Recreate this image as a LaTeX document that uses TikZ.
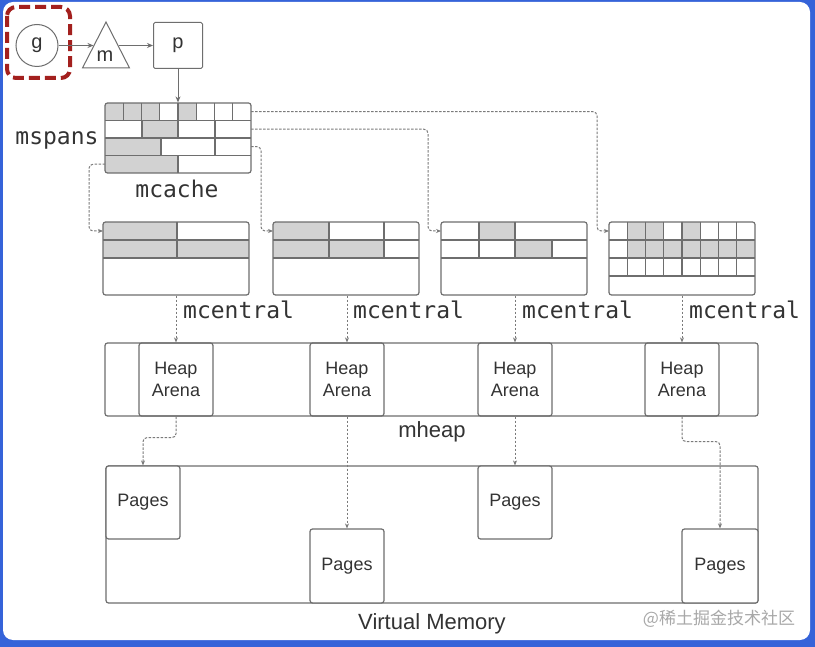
\documentclass[tikz,border=0pt]{standalone}
\usepackage{fontspec}
\setmainfont{Liberation Sans}
\newfontfamily\monof{DejaVu Sans Mono}
\newfontfamily\cjkf{Noto Sans CJK SC}
\usetikzlibrary{arrows.meta,calc}
\definecolor{lc}{HTML}{6E6E6E}
\definecolor{dc}{HTML}{7A7A7A}
\definecolor{gc}{HTML}{D2D2D2}
\definecolor{tc}{HTML}{333333}
\definecolor{bordc}{HTML}{3563D9}
\definecolor{redc}{HTML}{A3201E}
\definecolor{wm}{HTML}{A8A8A8}
\begin{document}
\begin{tikzpicture}[x=1pt,y=-1pt,
 ln/.style={draw=lc, line width=1.2pt},
 bx/.style={ln, rounded corners=2.5pt, inner sep=0pt},
 conn/.style={draw=dc, line width=1pt, dash pattern=on 2.5pt off 1.5pt, rounded corners=4pt, -{Stealth[length=5pt,width=4pt]}},
 arr/.style={draw=lc, line width=1pt, -{Stealth[length=6pt,width=5pt]}},
 monolab/.style={font=\monof\fontsize{23}{26}\selectfont, text=tc, inner sep=0pt},
 sanslab/.style={font=\fontsize{22}{26}\selectfont, text=tc, inner sep=0pt},
 small/.style={font=\fontsize{18}{22}\selectfont, text=tc, align=center},
 gmp/.style={font=\fontsize{20}{24}\selectfont, text=tc},
]
% frame
\fill[bordc] (0,0) rectangle (815,647);
\fill[white, rounded corners=10pt] (3,2) rectangle (810,640);
\useasboundingbox (0,0) rectangle (815,647);

% top: g, m, p
\node[circle, draw=lc, line width=1pt, minimum size=42pt, inner sep=0pt, gmp] (g) at (37,45.5) {g};
\draw[redc, line width=4pt, dash pattern=on 11pt off 5pt, rounded corners=9pt] (7,7) rectangle (70,78);
\draw[ln, line width=1pt] (106,22) -- (129.5,68) -- (82.5,68) -- cycle;
\node[gmp] (m) at (105,56) {m};
\coordinate (mL) at (93.5,45.5);
\coordinate (mR) at (118.5,45.5);
\node[draw=lc, line width=1pt, rounded corners=1.5pt, minimum width=49pt, minimum height=46pt, inner sep=0pt, gmp] (p) at (178,45.5) {p};
\draw[arr] (g) -- (mL);
\draw[arr] (mR) -- (p.west);

% mcache
\begin{scope}
\clip[rounded corners=2.5pt] (105,103) rectangle (251,173);
\fill[gc] (105,103) rectangle (159.75,120.5);
\fill[gc] (178,103) rectangle (196.25,120.5);
\fill[gc] (142,120.5) rectangle (178,138);
\fill[gc] (105,138) rectangle (161,155.5);
\fill[gc] (105,155.5) rectangle (178,173);
\end{scope}
\draw[ln] (105,120.5) -- (251,120.5) (105,138) -- (251,138) (105,155.5) -- (251,155.5);
\foreach \x in {123.25,141.5,159.75,178,196.25,214.5,232.75} \draw[ln] (\x,103) -- (\x,120.5);
\foreach \x in {142,178,215} \draw[ln] (\x,120.5) -- (\x,138);
\foreach \x in {161,215} \draw[ln] (\x,138) -- (\x,155.5);
\draw[ln] (178,155.5) -- (178,173);
\node[bx, minimum width=146pt, minimum height=70pt] (mcache) at (178,138) {};
\draw[arr] (p.south) -- (mcache.north);
\node[monolab] (mspans) at (57,140) {mspans};
\node[monolab] (mcachelab) at (177,189) {mcache};

% mcentral 1
\begin{scope}
\clip[rounded corners=2.5pt] (103,222) rectangle (249,295);
\fill[gc] (103,222) rectangle (177,240);
\fill[gc] (103,240) rectangle (249,258);
\end{scope}
\draw[ln] (103,240) -- (249,240) (103,258) -- (249,258) (177,222) -- (177,258);
\node[bx, minimum width=146pt, minimum height=73pt] (mc1) at (176,258.5) {};

% mcentral 2
\begin{scope}
\clip[rounded corners=2.5pt] (273,222) rectangle (419,295);
\fill[gc] (273,222) rectangle (329,240);
\fill[gc] (273,240) rectangle (384,258);
\end{scope}
\draw[ln] (273,240) -- (419,240) (273,258) -- (419,258) (329,222) -- (329,258) (384,222) -- (384,258);
\node[bx, minimum width=146pt, minimum height=73pt] (mc2) at (346,258.5) {};

% mcentral 3
\begin{scope}
\clip[rounded corners=2.5pt] (441,222) rectangle (587,295);
\fill[gc] (479,222) rectangle (515,240);
\fill[gc] (515,240) rectangle (552,258);
\end{scope}
\draw[ln] (441,240) -- (587,240) (441,258) -- (587,258) (479,222) -- (479,258) (515,222) -- (515,258) (552,240) -- (552,258);
\node[bx, minimum width=146pt, minimum height=73pt] (mc3) at (514,258.5) {};

% mcentral 4
\begin{scope}
\clip[rounded corners=2.5pt] (609,222) rectangle (755,295);
\fill[gc] (627.25,222) rectangle (663.75,240);
\fill[gc] (682,222) rectangle (700.25,240);
\fill[gc] (627.25,240) rectangle (755,258);
\end{scope}
\draw[ln] (609,240) -- (755,240) (609,258) -- (755,258) (609,276) -- (755,276);
\foreach \k in {1,...,7} \draw[ln] ({609+18.25*\k},222) -- ({609+18.25*\k},276);
\node[bx, minimum width=146pt, minimum height=73pt] (mc4) at (682,258.5) {};

% mcache -> mcentral connectors
\coordinate (s1) at (251,111.75);
\coordinate (s2) at (251,129.25);
\coordinate (s3) at (251,146.75);
\coordinate (s4) at (105,164.25);
\coordinate (e1) at (103,231);
\coordinate (e2) at (273,231);
\coordinate (e3) at (441,231);
\coordinate (e4) at (609,231);
\draw[conn] (s1) -| ($(e4)+(-12,0)$) -- (e4);
\draw[conn] (s2) -| ($(e3)+(-13,0)$) -- (e3);
\draw[conn] (s3) -| ($(e2)+(-12,0)$) -- (e2);
\draw[conn] (s4) -| ($(e1)+(-14,0)$) -- (e1);

% mheap
\node[bx, minimum width=653pt, minimum height=73pt] (heap) at (431.5,379.5) {};
\node[bx, small, minimum width=74pt, minimum height=73pt] (ar1) at (176,379.5) {Heap\\Arena};
\node[bx, small, minimum width=74pt, minimum height=73pt] (ar2) at (347,379.5) {Heap\\Arena};
\node[bx, small, minimum width=74pt, minimum height=73pt] (ar3) at (515,379.5) {Heap\\Arena};
\node[bx, small, minimum width=74pt, minimum height=73pt] (ar4) at (682,379.5) {Heap\\Arena};
\node[sanslab] (mheaplab) at (432,432) {mheap};

% mcentral labels and connectors
\node[monolab, anchor=west] (l1) at (183,310) {mcentral};
\node[monolab, anchor=west] (l2) at (353,310) {mcentral};
\node[monolab, anchor=west] (l3) at (522,310) {mcentral};
\node[monolab, anchor=west] (l4) at (689,310) {mcentral};
\draw[conn] (ar1.north |- mc1.south) -- (ar1.north);
\draw[conn] (ar2.north |- mc2.south) -- (ar2.north);
\draw[conn] (ar3.north |- mc3.south) -- (ar3.north);
\draw[conn] (ar4.north |- mc4.south) -- (ar4.north);

% virtual memory
\node[bx, minimum width=652pt, minimum height=137pt] (vm) at (432,534.5) {};
\node[bx, small, fill=white, minimum width=74pt, minimum height=73pt] (pg1) at (143,502.5) {Pages};
\node[bx, small, fill=white, minimum width=74pt, minimum height=74pt] (pg2) at (347,566) {Pages};
\node[bx, small, fill=white, minimum width=74pt, minimum height=73pt] (pg3) at (515,502.5) {Pages};
\node[bx, small, fill=white, minimum width=76pt, minimum height=74pt] (pg4) at (720,566) {Pages};
\node[sanslab] (vmlab) at (432,624) {Virtual Memory};

\draw[conn] (ar1.south) -- ++(0,21) -| (pg1.north);
\draw[conn] (ar2.south) -- (pg2.north);
\draw[conn] (ar3.south) -- (pg3.north);
\draw[conn] (ar4.south) -- ++(0,25) -| (pg4.north);

% watermark
\node[font=\cjkf\fontsize{17}{20}\selectfont, text=wm] (wmk) at (719,619) {@稀土掘金技术社区};
\end{tikzpicture}
\end{document}
